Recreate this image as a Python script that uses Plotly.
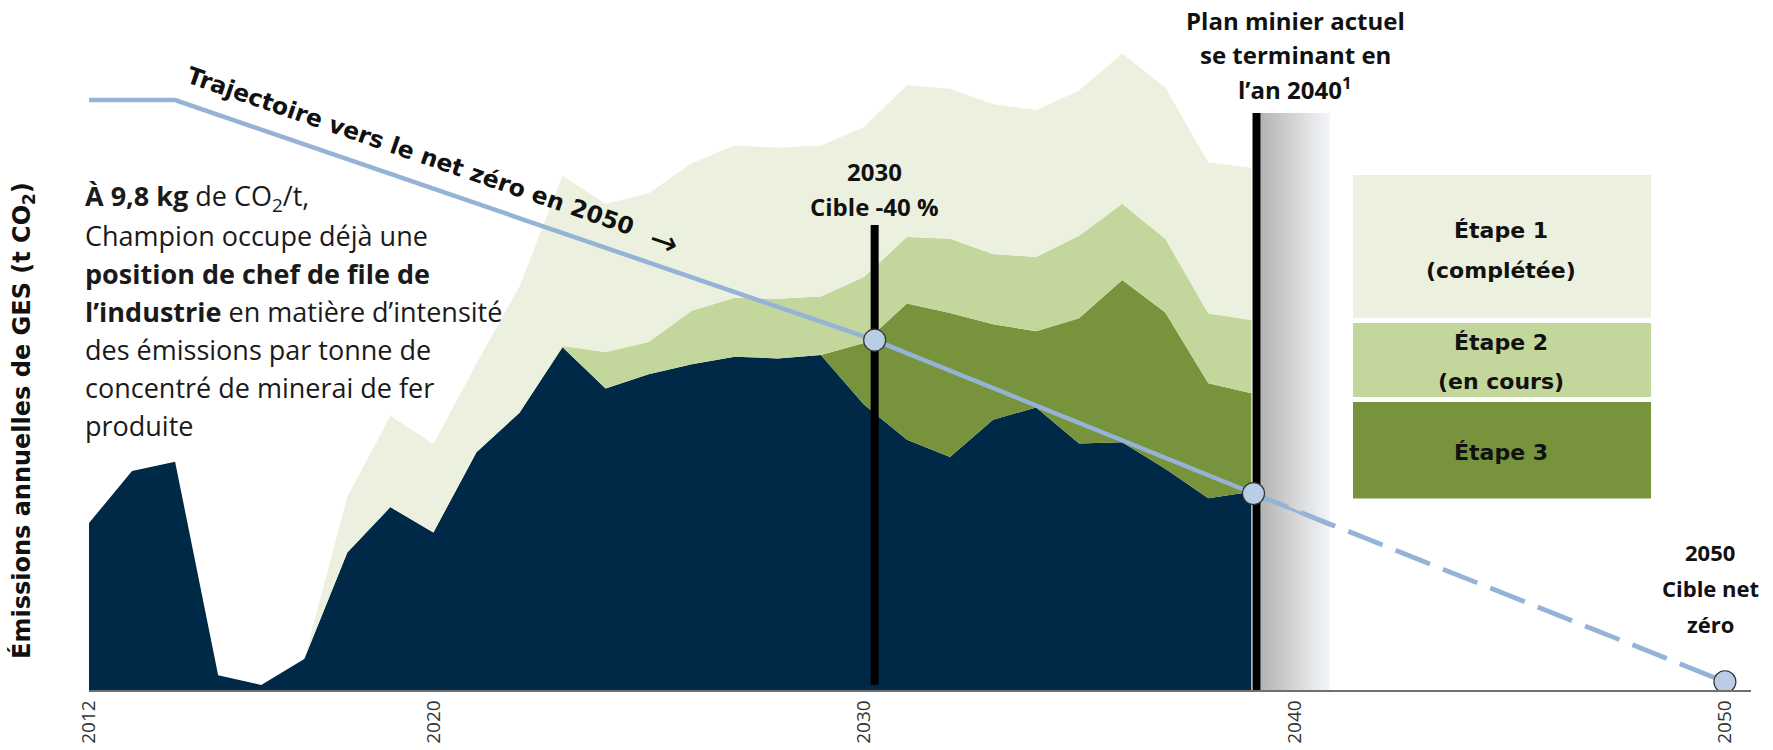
import plotly.graph_objects as go

# ---------------- data ----------------
YEARS = list(range(2012, 2040))
# bottom layer: remaining emissions (navy)
RESIDUAL = [28.3, 37.1, 38.7, 2.5, 0.85, 5.25, 23.3, 31.0, 26.7, 40.3, 47.0, 58.1,
            51.1, 53.5, 55.2, 56.5, 56.2, 56.8, 48.4, 42.4, 39.5, 45.8, 47.9, 41.8,
            42.0, 37.5, 32.5, 33.6]
ETAPE3 = [0, 0, 0, 0, 0, 0, 0, 0, 0, 0, 0, 0,
          0, 0, 0, 0, 0, 0, 10.4, 23.1, 24.4, 16.2, 12.9, 21.2,
          27.5, 26.5, 19.5, 16.7]
ETAPE2 = [0, 0, 0, 0, 0, 0, 0, 0, 0, 0, 0, 0.2,
          6.2, 5.5, 9.1, 10.0, 10.1, 9.9, 11.2, 11.3, 12.6, 11.9, 12.6, 14.0,
          12.9, 12.5, 11.8, 12.4]
ETAPE1 = [0, 0, 0, 0, 0, 0, 9.4, 15.5, 15.0, 15.0, 21.4, 28.8,
          25.1, 25.2, 25.0, 25.8, 25.6, 25.6, 25.4, 25.7, 25.4, 25.4, 24.9, 24.6,
          25.5, 25.6, 25.6, 25.8]

TRAJ_YEARS = [2012, 2014, 2030.25, 2039.05]
TRAJ_VALUES = [100, 100, 59.3, 33.3]
PROJ_YEARS = [2039.05, 2050]
PROJ_VALUES = [33.3, 1.4]
SOLID_TAIL_YEARS = [2039.05, 2040.83]
SOLID_TAIL_VALUES = [33.3, 27.9]
MILESTONE_YEARS = [2030.25, 2039.05, 2050]
MILESTONE_VALUES = [59.3, 33.3, 1.4]

TARGET_LINE = dict(year=2030.25, low=0.85, high=78.8)
MINE_END_LINE = dict(year=2039.12, low=0.0, high=97.8)
FADE_BAND = dict(start=2039.21, end=2040.83, high=97.8)

TICK_YEARS = [2012, 2020, 2030, 2040, 2050]
TICK_TEXT = [str(t) for t in TICK_YEARS]

# ---------------- geometry helpers (layout only) ----------------
W, H = 1773, 750
ML, MR, MT, MB = 89, 22, 12, 60
PLOT_W = W - ML - MR
PX_PER_YEAR = 43.05
PX_PER_UNIT = 5.9
X_MIN = 2012
X_MAX = X_MIN + PLOT_W / PX_PER_YEAR
Y_MAX = (H - MT - MB) / PX_PER_UNIT


def X(px):
    return X_MIN + (px - ML) / PX_PER_YEAR


def XP(px):
    return (px - ML) / PLOT_W


def Y(py):
    return (H - MB - py) / PX_PER_UNIT


NAVY = "#002947"
C_E3 = "#77933C"
C_E2 = "#C3D69B"
C_E1 = "#EBF1DE"
BLUE = "#95B3D7"
DOT = "#B9CDE5"
INK = "#111111"

fig = go.Figure()

for name, vals, col in [("Émissions", RESIDUAL, NAVY), ("Étape 3", ETAPE3, C_E3),
                        ("Étape 2", ETAPE2, C_E2), ("Étape 1", ETAPE1, C_E1)]:
    fig.add_trace(go.Scatter(x=YEARS, y=vals, name=name, stackgroup="em", mode="none",
                             fillcolor=col, line=dict(width=0), hoverinfo="skip"))

# fading band after end of mine plan
fig.add_trace(go.Scatter(
    x=[FADE_BAND["start"], FADE_BAND["end"], FADE_BAND["end"], FADE_BAND["start"], FADE_BAND["start"]],
    y=[0, 0, FADE_BAND["high"], FADE_BAND["high"], 0],
    fill="toself", mode="none",
    fillgradient=dict(type="horizontal", colorscale=[[0, "#B3B3B3"], [0.5, "#D6D6D6"], [1, "#F3F6FA"]]),
    hoverinfo="skip"))

for ln in (TARGET_LINE, MINE_END_LINE):
    fig.add_trace(go.Scatter(x=[ln["year"], ln["year"]], y=[ln["low"], ln["high"]], mode="lines",
                             line=dict(color="black", width=8), hoverinfo="skip"))

fig.add_trace(go.Scatter(x=TRAJ_YEARS, y=TRAJ_VALUES, mode="lines",
                         line=dict(color=BLUE, width=4.5), hoverinfo="skip"))
fig.add_trace(go.Scatter(x=SOLID_TAIL_YEARS, y=SOLID_TAIL_VALUES, mode="lines",
                         line=dict(color=BLUE, width=3), hoverinfo="skip"))
fig.add_trace(go.Scatter(x=PROJ_YEARS, y=PROJ_VALUES, mode="lines",
                         line=dict(color=BLUE, width=4.8, dash="37px,14px"), hoverinfo="skip"))
fig.add_trace(go.Scatter(x=MILESTONE_YEARS, y=MILESTONE_VALUES, mode="markers",
                         marker=dict(size=22, color=DOT, line=dict(color="#333333", width=1.2)),
                         hoverinfo="skip"))

# legend boxes
for (y0, y1, col) in [(175, 318, C_E1), (323, 397, C_E2), (402, 498.5, C_E3)]:
    fig.add_shape(type="rect", xref="x", yref="y", x0=X(1353), x1=X(1651), y0=Y(y1), y1=Y(y0),
                  fillcolor=col, line=dict(width=0), layer="above")

BOLD = "Open Sans"
WIDE = "DejaVu Sans"


def label(text, cx, cy, family=BOLD, size=24, anchor="center", bold=True, angle=0, color=INK):
    fig.add_annotation(x=XP(cx), y=Y(cy), xref="paper", yref="y",
                       text=(f"<b>{text}</b>" if bold else text),
                       showarrow=False, xanchor=anchor, yanchor="middle", textangle=angle,
                       font=dict(family=family, size=size, color=color))


# legend texts
label("Étape 1", 1501, 230, WIDE, 22)
label("(complétée)", 1501, 270, WIDE, 22)
label("Étape 2", 1501, 342, WIDE, 22)
label("(en cours)", 1501, 381, WIDE, 22)
label("Étape 3", 1501, 452, WIDE, 22)

# milestone labels
for i, t in enumerate(["2030", "Cible -40 %"]):
    label(t, 874, 171.5 + i * 34.5, BOLD, 24)
for i, t in enumerate(["Plan minier actuel", "se terminant en", "l’an 2040<sup>1</sup>"]):
    label(t, 1295, 20.5 + i * 33.8, BOLD, 24)
for i, t in enumerate(["2050", "Cible net", "zéro"]):
    label(t, 1710, 551.5 + i * 36, BOLD, 22)

# trajectory text
label("Trajectoire vers le net zéro en 2050", 410, 151, WIDE, 23.5, angle=19)
label("→", 664, 241, WIDE, 34, bold=False, angle=19)

# body text
BODY = [
    "<b>À 9,8 kg</b> de CO<sub>2</sub>/t,",
    "Champion occupe déjà une",
    "<b>position de chef de file de</b>",
    "<b>l’industrie</b> en matière d’intensité",
    "des émissions par tonne de",
    "concentré de minerai de fer",
    "produite",
]
for i, t in enumerate(BODY):
    label(t, 83, 197 + i * 38, "Open Sans", 27, anchor="left", bold=False, color="#1a1a1a")

# y-axis title
label("Émissions annuelles de GES (t CO<sub>2</sub>)", 23, 421, WIDE, 24, angle=-90)

fig.update_layout(
    width=W, height=H, margin=dict(l=ML, r=MR, t=MT, b=MB, autoexpand=False),
    paper_bgcolor="white", plot_bgcolor="white", showlegend=False,
    xaxis=dict(range=[X_MIN, X_MAX], tickvals=TICK_YEARS, ticktext=TICK_TEXT, tickangle=-90,
               showgrid=False, zeroline=False, showline=True, linecolor="#6f6f6f", linewidth=1.5,
               ticks="", ticklabelstandoff=1, automargin=False,
               tickfont=dict(family="Open Sans", size=19, color="#333333")),
    yaxis=dict(range=[0, Y_MAX], visible=False, automargin=False),
)

fig.write_html("out.html", config={"displayModeBar": False},
               post_script="document.body.style.margin='0px';")
